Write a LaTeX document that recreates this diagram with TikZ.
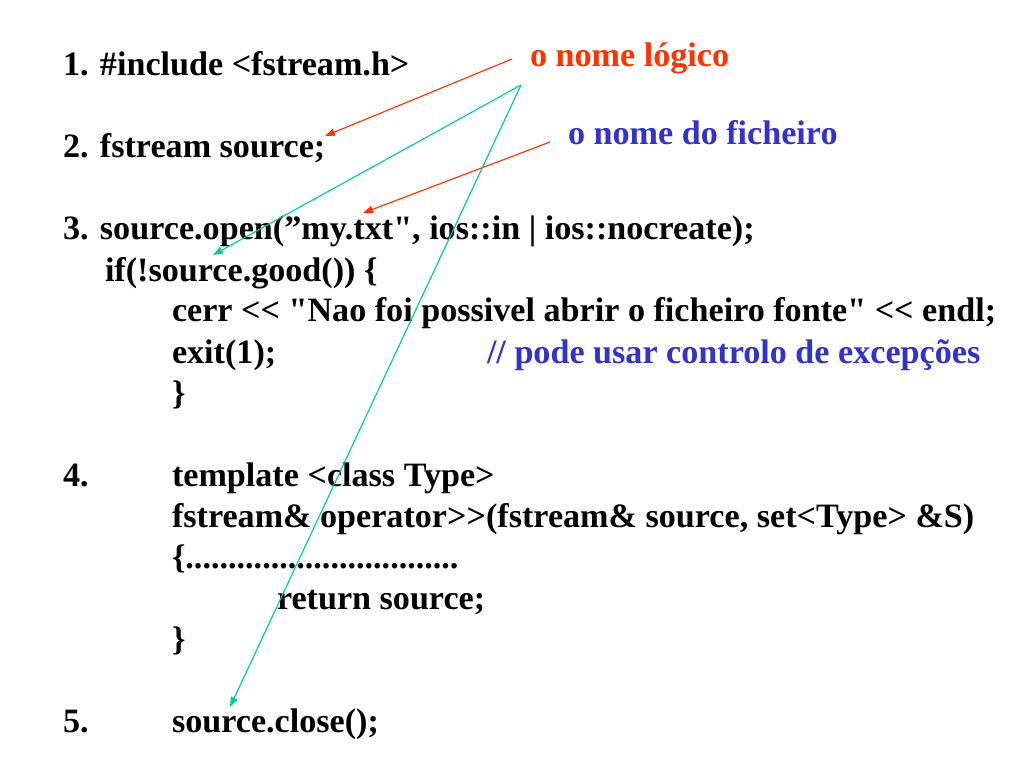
\documentclass[tikz,border=0pt]{standalone}
\usepackage{fontspec}
\setmainfont{Liberation Serif}[Ligatures=TeXOff]
\usetikzlibrary{arrows.meta}
\definecolor{redorange}{RGB}{255,51,0}
\definecolor{bluetxt}{RGB}{51,51,204}
\definecolor{greenarr}{RGB}{0,204,153}
\begin{document}
\begin{tikzpicture}[x=0.703125pt,y=-0.703125pt,
  txt/.style={anchor=base west,inner sep=0pt,outer sep=0pt,font=\bfseries\fontsize{24}{28}\selectfont},
  redarr/.style={draw=redorange,line width=0.8pt,-{Triangle[length=7pt,width=5pt]}},
  greenarrow/.style={draw=greenarr,line width=0.8pt,-{Triangle[length=7pt,width=5pt]}}]
\useasboundingbox[fill=white] (0,0) rectangle (1024,768);
\node[txt] (l1) at (63,76) {1. \#include <fstream.h>};
\node[txt] (l2) at (63,158) {2. fstream source;};
\node[txt] (l3) at (63,240) {3. source.open(”my.txt", ios::in | ios::nocreate);};
\node[txt] (l4) at (105,281) {if(!source.good()) \{};
\node[txt] (l5) at (172,322) {cerr <\kern0pt< "Nao foi possivel abrir o ficheiro fonte" <\kern0pt< endl;};
\node[txt] (l6) at (172,363) {exit(1);};
\node[txt,text=bluetxt] (l6c) at (487,363) {// pode usar controlo de excepções};
\node[txt] (l7) at (172,404) {\}};
\node[txt] (l8n) at (63,486) {4.};
\node[txt] (l8) at (172,486) {template <class Type>};
\node[txt] (l9) at (172,527) {fstream\& operator>\kern0pt>(fstream\& source, set<Type> \&S)};
\node[txt] (l10) at (172,568) {\{................................};
\node[txt] (l11) at (277,609) {return source;};
\node[txt] (l12) at (172,650) {\}};
\node[txt] (l13n) at (63,732) {5.};
\node[txt] (l13) at (172,732) {source.close();};
\node[txt,text=redorange] (lab1) at (530,67) {o nome lógico};
\node[txt,text=bluetxt] (lab2) at (568,145) {o nome do ficheiro};
\coordinate (r1s) at (512,59);
\coordinate (r1e) at (325,136);
\coordinate (r2s) at (550,142);
\coordinate (r2e) at (363,213);
\coordinate (gs) at (521,85);
\coordinate (g1e) at (213,255);
\coordinate (g2e) at (230,707);
\draw[redarr] (r1s) -- (r1e);
\draw[redarr] (r2s) -- (r2e);
\draw[greenarrow] (gs) -- (g1e);
\draw[greenarrow] (gs) -- (g2e);
\end{tikzpicture}
\end{document}
